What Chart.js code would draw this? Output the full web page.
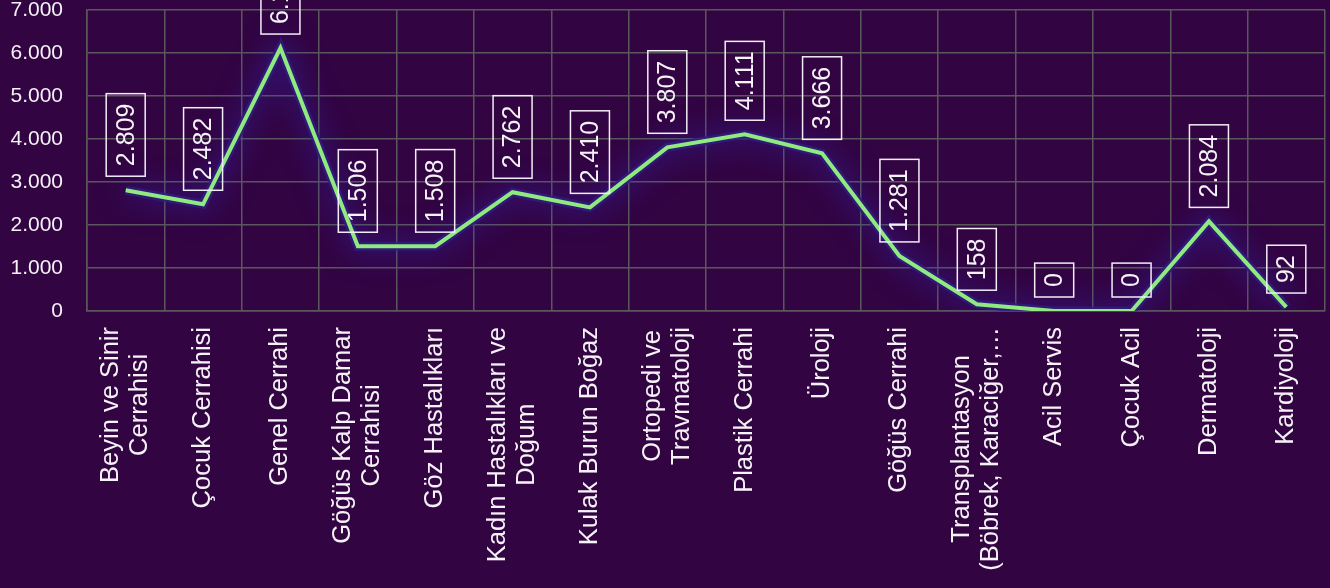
<!DOCTYPE html>
<html>
<head>
<meta charset="utf-8">
<script src="https://cdn.jsdelivr.net/npm/chart.js@4/dist/chart.umd.min.js"></script>
<style>
html,body{margin:0;padding:0;background:#320442;}
#wrap{width:1330px;height:588px;position:relative;}
</style>
</head>
<body>
<div id="wrap"><canvas id="c" width="1330" height="588"></canvas></div>
<script>
const categories = [
  ["Beyin ve Sinir", "Cerrahisi"],
  ["Çocuk Cerrahisi"],
  ["Genel Cerrahi"],
  ["Göğüs Kalp Damar", "Cerrahisi"],
  ["Göz Hastalıkları"],
  ["Kadın Hastalıkları ve", "Doğum"],
  ["Kulak Burun Boğaz"],
  ["Ortopedi ve", "Travmatoloji"],
  ["Plastik Cerrahi"],
  ["Üroloji"],
  ["Göğüs Cerrahi"],
  ["Transplantasyon", "(Böbrek, Karaciğer,…"],
  ["Acil Servis"],
  ["Çocuk Acil"],
  ["Dermatoloji"],
  ["Kardiyoloji"]
];
const values = [2809, 2482, 6115, 1506, 1508, 2762, 2410, 3807, 4111, 3666, 1281, 158, 0, 0, 2084, 92];
const yTicks = [0, 1000, 2000, 3000, 4000, 5000, 6000, 7000];

const fmt = v => v.toLocaleString('de-DE');
const FONT = '"Liberation Sans", Arial, sans-serif';
const GRID = '#5a585c';
const TEXT = '#f4f2f6';

const glowPlugin = {
  id: 'glow',
  beforeDatasetDraw(chart, args) {
    const ctx = chart.ctx;
    ctx.save();
    if (args.index === 0) {
      ctx.shadowColor = 'rgba(55,40,190,0.9)';
      ctx.shadowBlur = 30;
    }
  },
  afterDatasetDraw(chart) {
    chart.ctx.restore();
  }
};

const xLabelPlugin = {
  id: 'xLabels',
  afterDraw(chart) {
    const ctx = chart.ctx;
    const xs = chart.scales.x;
    const top = chart.chartArea.bottom + 16;
    const lh = 29;
    ctx.save();
    ctx.font = '25.5px ' + FONT;
    ctx.fillStyle = TEXT;
    ctx.textAlign = 'center';
    ctx.textBaseline = 'middle';
    categories.forEach((lines, i) => {
      const px = xs.getPixelForTick(i);
      const maxW = Math.max(...lines.map(l => ctx.measureText(l).width));
      const cy = top + maxW / 2;
      lines.forEach((l, j) => {
        const cx = px + (j - (lines.length - 1) / 2) * lh;
        ctx.save();
        ctx.translate(cx, cy);
        ctx.rotate(-Math.PI / 2);
        ctx.fillText(l, 0, 0);
        ctx.restore();
      });
    });
    ctx.restore();
  }
};

const labelPlugin = {
  id: 'boxLabels',
  afterDatasetsDraw(chart) {
    const ctx = chart.ctx;
    const meta = chart.getDatasetMeta(1);
    ctx.save();
    ctx.font = '25px ' + FONT;
    meta.data.forEach((pt, i) => {
      const txt = fmt(values[i]);
      const w = ctx.measureText(txt).width;
      const boxH = w + 20;
      const boxW = 39;
      const bottom = pt.y - 14;
      const top = bottom - boxH;
      ctx.strokeStyle = '#f2eef5';
      ctx.lineWidth = 1.5;
      ctx.strokeRect(pt.x - boxW / 2, top, boxW, boxH);
      ctx.save();
      ctx.translate(pt.x, top + boxH / 2);
      ctx.rotate(-Math.PI / 2);
      ctx.fillStyle = TEXT;
      ctx.textAlign = 'center';
      ctx.textBaseline = 'middle';
      ctx.fillText(txt, 0, 1);
      ctx.restore();
    });
    ctx.restore();
  }
};

new Chart(document.getElementById('c'), {
  type: 'line',
  data: {
    labels: categories,
    datasets: [{
      data: values,
      borderColor: 'rgba(48,28,125,0.85)',
      borderWidth: 9,
      tension: 0,
      pointRadius: 0,
      fill: false,
      order: 2
    }, {
      data: values,
      borderColor: '#90EA80',
      borderWidth: 4,
      tension: 0,
      pointRadius: 0,
      fill: false,
      order: 1
    }]
  },
  options: {
    responsive: false,
    animation: false,
    layout: { padding: { left: 0, right: 5, top: 10, bottom: 0 } },
    plugins: { legend: { display: false }, tooltip: { enabled: false } },
    scales: {
      x: {
        offset: true,
        grid: { offset: true, color: GRID, lineWidth: 1.5, drawTicks: false },
        border: { color: GRID, width: 1.5 },
        ticks: { display: false },
        afterFit(scale) { scale.height = 277; scale.paddingLeft = 0; scale.paddingRight = 0; }
      },
      y: {
        min: 0,
        max: 7000,
        afterBuildTicks(scale) { scale.ticks = yTicks.map(v => ({ value: v })); },
        afterFit(scale) { scale.width = 87; scale.paddingTop = 0; scale.paddingBottom = 0; },
        grid: { color: GRID, lineWidth: 1.5, drawTicks: false },
        border: { color: GRID, width: 1.5 },
        ticks: {
          padding: 24,
          color: TEXT,
          font: { family: FONT, size: 21 },
          callback: v => fmt(v)
        }
      }
    }
  },
  plugins: [glowPlugin, labelPlugin, xLabelPlugin]
});
</script>
</body>
</html>
